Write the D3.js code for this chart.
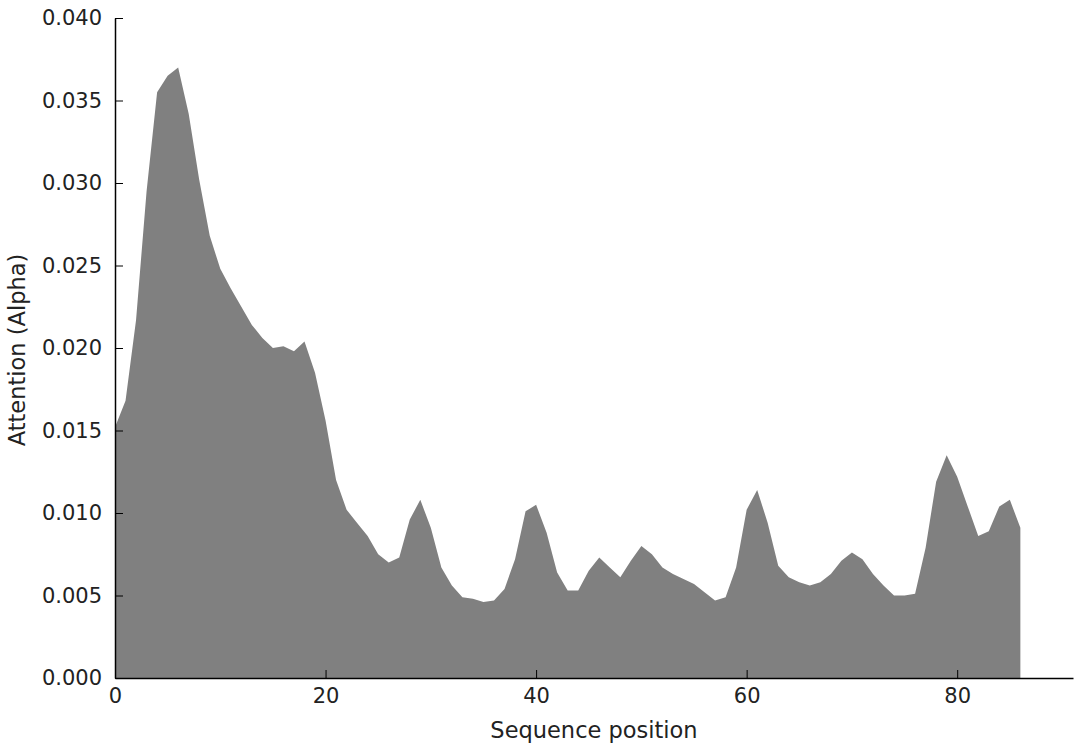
<!DOCTYPE html>
<meta charset="utf-8">
<script src="https://cdnjs.cloudflare.com/ajax/libs/d3/7.8.5/d3.min.js"></script>
<style>
body { margin: 0; background: #fff; }
text { font-family: "DejaVu Sans", sans-serif; fill: #222; }
</style>
<body>
<script>

// attention weight per sequence position (positions 0..86)
var attention = [
  0.0152, 0.0168, 0.0217, 0.0295, 0.0355, 0.0365, 0.0370, 0.0342, 0.0302, 0.0268,
  0.0248, 0.0236, 0.0225, 0.0214, 0.0206, 0.0200, 0.0201, 0.0198, 0.0204, 0.0185,
  0.0156, 0.0120, 0.0102, 0.0094, 0.0086, 0.0075, 0.0070, 0.0073, 0.0096, 0.0108,
  0.0091, 0.0067, 0.0056, 0.0049, 0.0048, 0.0046, 0.0047, 0.0054, 0.0072, 0.0101,
  0.0105, 0.0088, 0.0064, 0.0053, 0.0053, 0.0065, 0.0073, 0.0067, 0.0061, 0.0071,
  0.0080, 0.0075, 0.0067, 0.0063, 0.0060, 0.0057, 0.0052, 0.0047, 0.0049, 0.0067,
  0.0102, 0.0114, 0.0094, 0.0068, 0.0061, 0.0058, 0.0056, 0.0058, 0.0063, 0.0071,
  0.0076, 0.0072, 0.0063, 0.0056, 0.0050, 0.0050, 0.0051, 0.0079, 0.0119, 0.0135,
  0.0122, 0.0104, 0.0086, 0.0089, 0.0104, 0.0108, 0.0091
];
var xTicks = [0, 20, 40, 60, 80];
var yTicks = [0, 0.005, 0.010, 0.015, 0.020, 0.025, 0.030, 0.035, 0.040];

var margin = {top: 18, right: 2, bottom: 68, left: 115},
  width = 1075 - margin.left - margin.right,
  height = 746 - margin.top - margin.bottom;

var svg = d3.select("body").append("svg")
    .attr("width", 1075)
    .attr("height", 746)
  .append("g")
    .attr("transform", "translate(" + margin.left + "," + margin.top + ")");

var x = d3.scaleLinear().domain([0, 91]).range([0, width]);
var y = d3.scaleLinear().domain([0, 0.04]).range([height, 0]);

var area = d3.area()
  .x(function(d, i) { return x(i); })
  .y0(y(0))
  .y1(function(d) { return y(d); });

svg.append("path")
  .datum(attention)
  .attr("d", area)
  .style("fill", "#808080");

// axes with inward ticks, like matplotlib classic
var xAxis = svg.append("g")
  .attr("transform", "translate(0," + height + ")")
  .call(d3.axisBottom(x).tickValues(xTicks).tickSize(-8).tickPadding(10).tickSizeOuter(0));
var yAxis = svg.append("g")
  .call(d3.axisLeft(y).tickValues(yTicks).tickFormat(d3.format(".3f")).tickSize(-8).tickPadding(13).tickSizeOuter(0));

[xAxis, yAxis].forEach(function(a) {
  a.select(".domain").attr("stroke", "#000").attr("stroke-width", 1.5);
  a.selectAll(".tick line").attr("stroke", "#000").attr("stroke-width", 1);
  a.selectAll("text").style("font-size", "21px").attr("fill", "#222");
});

svg.append("text")
  .attr("x", width / 2)
  .attr("y", height + 60)
  .style("text-anchor", "middle")
  .style("font-size", "22.5px")
  .text("Sequence position");

svg.append("text")
  .attr("transform", "rotate(-90)")
  .attr("x", -height / 2 - 2)
  .attr("y", -90)
  .style("text-anchor", "middle")
  .style("font-size", "22.5px")
  .text("Attention (Alpha)");

</script>
</body>
</html>
